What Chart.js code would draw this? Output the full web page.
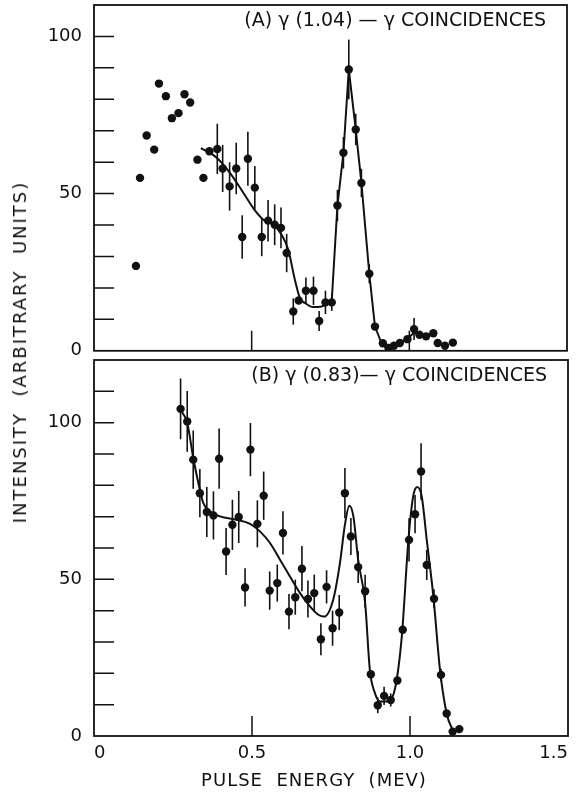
<!DOCTYPE html>
<html>
<head>
<meta charset="utf-8">
<script src="https://cdn.jsdelivr.net/npm/chart.js@4.4.1/dist/chart.umd.min.js"></script>
<style>
  html, body { margin: 0; padding: 0; background: #fff; }
  body { width: 579px; height: 795px; position: relative; overflow: hidden; font-family: "DejaVu Sans", sans-serif; color: #111; }
  canvas { position: absolute; left: 0; }
  #chartA { top: 0; }
  #chartB { top: 355px; }
  .axisTitle { position: absolute; white-space: pre; font-size: 18px; line-height: 18px; }
  #yTitle { left: 20px; top: 352px; letter-spacing: 2px; transform: translate(-50%, -50%) rotate(-90deg); }
  #xTitle { left: 314px; top: 780px; letter-spacing: 1px; transform: translate(-50%, -50%); }
</style>
</head>
<body>
<canvas id="chartA" width="579" height="355"></canvas>
<canvas id="chartB" width="579" height="440"></canvas>
<div class="axisTitle" id="yTitle">INTENSITY  (ARBITRARY  UNITS)</div>
<div class="axisTitle" id="xTitle">PULSE  ENERGY  (MEV)</div>

<script>
// Données
const labelA = '(A) γ (1.04) — γ COINCIDENCES';
const labelB = '(B) γ (0.83)— γ COINCIDENCES';

const xTickValues = [0, 0.5, 1.0, 1.5];
const xTickLabels = ['0', '0.5', '1.0', '1.5'];
const yLabelValues = [0, 50, 100];

// panneau A : points mesurés
const energyA = [0.133, 0.146, 0.167, 0.191, 0.206, 0.228, 0.247, 0.268, 0.287, 0.305, 0.328, 0.347, 0.366,
  0.391, 0.408, 0.430, 0.451, 0.470, 0.488, 0.510, 0.532, 0.552, 0.573, 0.593, 0.611, 0.632, 0.649,
  0.672, 0.696, 0.714, 0.734, 0.754, 0.772, 0.791, 0.808, 0.830, 0.848, 0.873, 0.891, 0.916, 0.934,
  0.951, 0.970, 0.994, 1.015, 1.032, 1.053, 1.076, 1.090, 1.113, 1.138];
const countsA = [27, 55, 68.5, 64, 85, 81, 74, 75.6, 81.6, 79, 60.8, 55, 63.5,
  64.2, 58, 52.3, 58, 36.2, 61.1, 51.9, 36.2, 41.4, 40.1, 39.1, 31.1, 12.5, 16,
  19.1, 19.1, 9.5, 15.4, 15.4, 46.2, 63, 89.5, 70.4, 53.4, 24.5, 7.7, 2.4, 0.9,
  1.6, 2.5, 3.7, 6.9, 5.1, 4.6, 5.6, 2.5, 1.6, 2.6];
const errorsA = [0, 0, 0, 0, 0, 0, 0, 0, 0, 0, 0, 0, 0,
  8, 7.5, 7.7, 8.2, 6.9, 8.6, 6.9, 6.1, 6.6, 6.5, 6.5, 6.1, 4.2, 0,
  4.2, 4.5, 3.2, 3.7, 2.7, 5, 5, 9.5, 5, 4.5, 3, 0, 0, 0,
  0, 0, 0, 3.5, 0, 0, 0, 0, 0, 0];

// panneau A : courbe tracée
const fitSmoothEnergyA = [0.339, 0.389, 0.431, 0.474, 0.505, 0.537, 0.569, 0.595, 0.616, 0.637, 0.653,
  0.669, 0.696, 0.722, 0.743, 0.754];
const fitSmoothA = [64.5, 61.4, 56.6, 50.2, 45.4, 41.7, 40.1, 36.9, 32.2, 22.6, 16.8,
  15.2, 13.9, 14.1, 15.2, 16];
const fitPeakEnergyA = [0.754, 0.772, 0.791, 0.808, 0.830, 0.848, 0.873, 0.891, 0.912, 0.933, 0.951,
  0.970, 0.993, 1.015, 1.034, 1.053, 1.074];
const fitPeakA = [16, 46.2, 63, 89.5, 70.4, 53.4, 24.5, 7.7, 2.4, 0.3, 1.6,
  2.5, 3.7, 5.8, 5.0, 4.8, 5.4];

// panneau B : points mesurés
const energyB = [0.274, 0.295, 0.314, 0.335, 0.357, 0.378, 0.396, 0.418, 0.438, 0.458, 0.478, 0.495,
  0.517, 0.537, 0.556, 0.580, 0.598, 0.617, 0.637, 0.658, 0.677, 0.697, 0.718, 0.736, 0.755, 0.776,
  0.794, 0.813, 0.836, 0.858, 0.876, 0.898, 0.918, 0.939, 0.960, 0.977, 0.997, 1.016, 1.035, 1.053,
  1.076, 1.098, 1.116, 1.135, 1.156];
const countsB = [104.4, 100.4, 88.2, 77.5, 71.5, 70.4, 88.5, 58.9, 67.4, 69.9, 47.4, 91.4,
  67.7, 76.7, 46.4, 48.8, 64.8, 39.7, 44.3, 53.4, 43.7, 45.6, 30.9, 47.6, 34.4, 39.4,
  77.5, 63.7, 53.9, 46.2, 19.7, 9.8, 12.8, 11.5, 17.7, 33.9, 62.6, 70.8, 84.4, 54.6,
  43.8, 19.5, 7.2, 1.4, 2.2];
const errorsB = [9.7, 9.7, 9.3, 7.7, 8, 7.7, 9.6, 7.5, 8, 8.3, 6.1, 8.5,
  7.5, 7.7, 6.1, 5.9, 6.9, 5.6, 5.6, 7.2, 5.9, 5.9, 5.1, 5.3, 5.6, 5.6,
  8, 5.9, 5.1, 5.3, 0, 2.5, 2.9, 2.1, 0, 0, 6.9, 6.1, 9, 4.8,
  3, 2, 0, 0, 0];

// panneau B : courbe tracée
const fitEnergyB = [0.274, 0.295, 0.314, 0.335, 0.346, 0.367, 0.399, 0.452, 0.494, 0.525, 0.557, 0.589,
  0.620, 0.652, 0.684, 0.710, 0.728, 0.757, 0.778, 0.794, 0.808, 0.821, 0.836, 0.858, 0.873, 0.889,
  0.905, 0.931, 0.953, 0.974, 0.995, 1.010, 1.023, 1.037, 1.053, 1.074, 1.095, 1.116, 1.137];
const fitB = [104, 100, 88.8, 78.6, 74.3, 71.7, 70.1, 69, 67.7, 65.3, 61.6, 56.2,
  50.9, 45.6, 41.3, 38.7, 38.1, 43.5, 55, 67.4, 73.5, 70, 56.2, 42.5, 21, 13.7,
  11, 11, 15.3, 31.7, 62.6, 76.5, 79.5, 76.5, 62.6, 44.5, 21, 7.2, 1.4];

const INK = '#111';
const FONT = '"DejaVu Sans", sans-serif';

function toPoints(xs, ys) {
    return xs.map((x, i) => ({ x: x, y: ys[i] }));
}

/**
 * Cadre, graduations intérieures, barres d'erreur et titre du panneau
 */
const panelDecor = {
    id: 'panelDecor',
    beforeDatasetsDraw(chart) {
        const { ctx, scales: { x, y } } = chart;
        ctx.save();
        ctx.strokeStyle = INK;
        ctx.lineWidth = 1.6;
        chart.data.datasets.forEach(ds => {
            if (!ds.errorBars) return;
            ds.data.forEach((p, i) => {
                const e = ds.errorBars[i];
                if (!e) return;
                const px = x.getPixelForValue(p.x);
                ctx.beginPath();
                ctx.moveTo(px, y.getPixelForValue(p.y - e));
                ctx.lineTo(px, y.getPixelForValue(p.y + e));
                ctx.stroke();
            });
        });
        ctx.restore();
    },
    afterDraw(chart, args, opts) {
        const { ctx, chartArea: a, scales: { x, y } } = chart;
        ctx.save();
        ctx.strokeStyle = INK;
        ctx.lineWidth = 1.8;
        ctx.strokeRect(a.left, a.top, a.right - a.left, a.bottom - a.top);

        ctx.lineWidth = 1.5;
        ctx.beginPath();
        y.ticks.forEach(t => {
            if (t.value <= y.min || t.value >= y.max) return;
            const py = y.getPixelForValue(t.value);
            ctx.moveTo(a.left, py);
            ctx.lineTo(a.left + 20, py);
        });
        xTickValues.forEach(v => {
            if (v <= x.min || v >= x.max) return;
            const px = x.getPixelForValue(v);
            ctx.moveTo(px, a.bottom);
            ctx.lineTo(px, a.bottom - 20);
        });
        ctx.stroke();

        ctx.fillStyle = INK;
        ctx.font = '19px ' + FONT;
        ctx.textAlign = 'right';
        ctx.textBaseline = 'middle';
        ctx.fillText(opts.label, a.right - 21, a.top + 16);
        ctx.restore();
    }
};

function makePanel(canvasId, cfg) {
    const datasets = [{
        data: toPoints(cfg.energy, cfg.counts),
        errorBars: cfg.errors,
        backgroundColor: INK,
        borderWidth: 0,
        pointRadius: 4.2,
        showLine: false
    }];
    cfg.fits.forEach(f => {
        datasets.push({
            data: toPoints(f.xs, f.ys),
            showLine: true,
            borderColor: INK,
            borderWidth: 2,
            pointRadius: 0,
            tension: f.smooth ? 0.4 : 0,
            cubicInterpolationMode: f.smooth ? 'monotone' : 'default',
            fill: false
        });
    });

    return new Chart(document.getElementById(canvasId), {
        type: 'scatter',
        data: { datasets: datasets },
        plugins: [panelDecor],
        options: {
            responsive: false,
            animation: false,
            events: [],
            layout: { padding: cfg.padding },
            plugins: {
                legend: { display: false },
                tooltip: { enabled: false },
                panelDecor: { label: cfg.label }
            },
            scales: {
                x: {
                    type: 'linear',
                    min: 0,
                    max: 1.5,
                    display: cfg.showX,
                    afterBuildTicks: s => { s.ticks = xTickValues.map(v => ({ value: v })); },
                    afterFit: s => {
                        s.height = cfg.showX ? 59 : 0;
                        s.paddingLeft = 0;
                        s.paddingRight = 0;
                    },
                    grid: { display: false, drawTicks: false },
                    border: { display: false },
                    ticks: {
                        autoSkip: false,
                        maxRotation: 0,
                        align: 'inner',
                        padding: 7,
                        color: INK,
                        font: { family: FONT, size: 18 },
                        callback: v => xTickLabels[xTickValues.indexOf(v)]
                    }
                },
                y: {
                    min: 0,
                    max: cfg.yMax,
                    afterFit: s => {
                        s.width = 94;
                        s.paddingTop = 0;
                        s.paddingBottom = 0;
                    },
                    grid: { display: false, drawTicks: false },
                    border: { display: false },
                    ticks: {
                        stepSize: 10,
                        padding: 12,
                        color: INK,
                        font: { family: FONT, size: 18 },
                        callback: v => yLabelValues.includes(v) ? String(v) : ''
                    }
                }
            }
        }
    });
}

makePanel('chartA', {
    energy: energyA, counts: countsA, errors: errorsA,
    fits: [
        { xs: fitSmoothEnergyA, ys: fitSmoothA, smooth: true },
        { xs: fitPeakEnergyA, ys: fitPeakA, smooth: false }
    ],
    yMax: 110,
    showX: false,
    label: labelA,
    padding: { top: 5, right: 12, bottom: 4, left: 0 }
});

makePanel('chartB', {
    energy: energyB, counts: countsB, errors: errorsB,
    fits: [{ xs: fitEnergyB, ys: fitB, smooth: true }],
    yMax: 120,
    showX: true,
    label: labelB,
    padding: { top: 5, right: 11, bottom: 0, left: 0 }
});
</script>
</body>
</html>
